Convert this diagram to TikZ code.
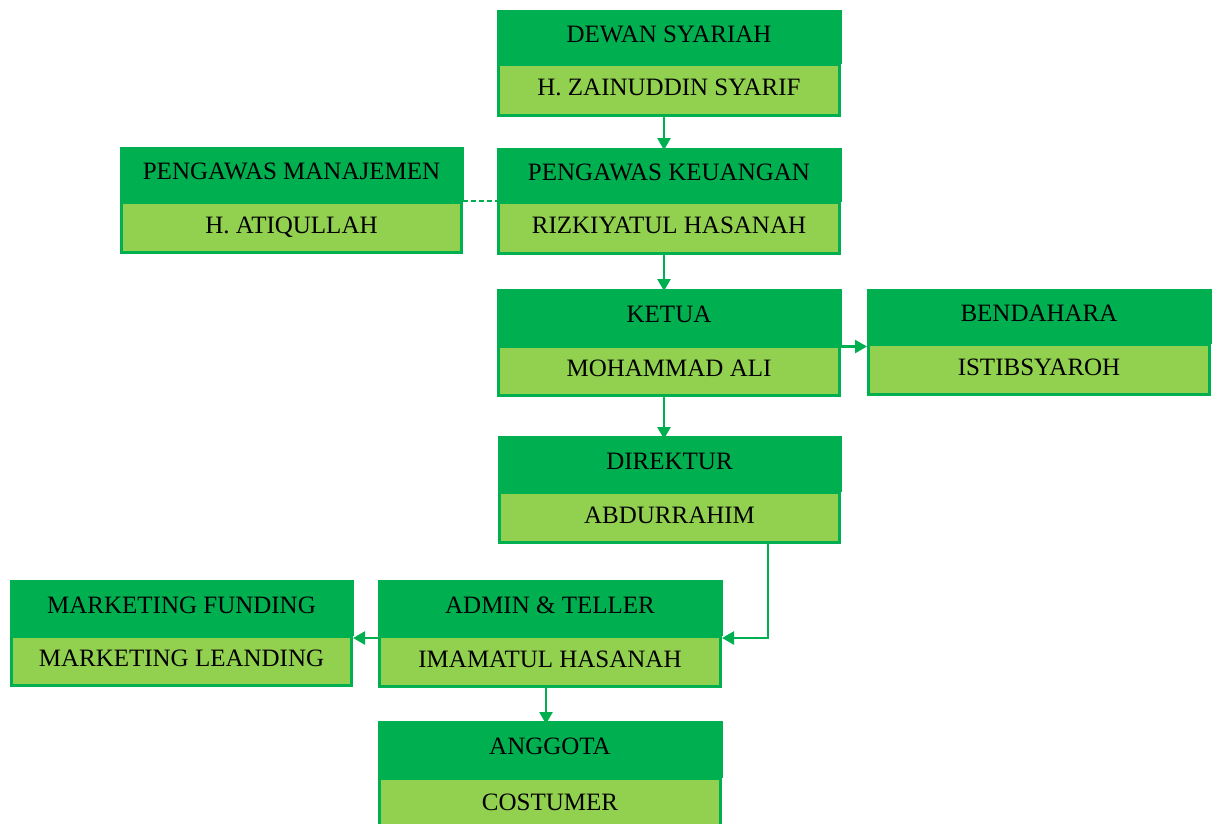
\documentclass[tikz,border=0pt]{standalone}
\usepackage{fontspec}
\setmainfont{Liberation Serif}
\usetikzlibrary{arrows.meta}
\definecolor{dg}{HTML}{00B050}
\definecolor{lg}{HTML}{92D050}
\tikzset{
  tophead/.style={rectangle, fill=dg, draw=dg, line width=0.5pt, inner sep=0pt, outer sep=0pt, anchor=north west,
    font=\fontsize{25}{29}\selectfont, text height=16.5pt, text depth=5pt},
  botpart/.style={rectangle, fill=lg, draw=dg, line width=3pt, inner sep=0pt, outer sep=0pt, anchor=north west,
    font=\fontsize{25}{29}\selectfont, text height=16.5pt, text depth=5pt},
  arr/.style={draw=dg, line width=2.5pt, -{Triangle[width=13pt,length=12pt]}},
  link/.style={draw=dg, line width=2.5pt, dash pattern=on 5pt off 3pt}
}
\newcommand\orgunit[8]{%
  \node[tophead, minimum width={#3-#2}, minimum height={#5-#4}] (#1t) at (#2,#4) {#7};
  \node[botpart, minimum width={#3-#2-3}, minimum height={#6-#5-3}] (#1b) at (#2+1.5,#5+1.5) {#8};}
\begin{document}
\begin{tikzpicture}[x=1pt,y=-1pt]
\useasboundingbox (0,0) rectangle (1217,823);
\orgunit{dewan}{497}{841}{10}{63}{117}{DEWAN SYARIAH}{H. ZAINUDDIN SYARIF}
\orgunit{keu}{497}{841}{148}{201}{255}{PENGAWAS KEUANGAN}{RIZKIYATUL HASANAH}
\orgunit{man}{120}{463}{147}{201}{254}{PENGAWAS MANAJEMEN}{H. ATIQULLAH}
\orgunit{ketua}{497}{841}{289}{345}{397}{KETUA}{MOHAMMAD ALI}
\orgunit{bend}{867}{1211}{289}{343}{396}{BENDAHARA}{ISTIBSYAROH}
\orgunit{dir}{498}{841}{436}{491}{544}{DIREKTUR}{ABDURRAHIM}
\orgunit{admin}{378}{722}{580}{635}{688}{ADMIN \& TELLER}{IMAMATUL HASANAH}
\orgunit{mkt}{10}{353}{580}{635}{687}{MARKETING FUNDING}{MARKETING LEANDING}
\orgunit{ang}{378}{722}{721}{777}{832}{ANGGOTA}{COSTUMER}
% connectors
\draw[arr] (664,0 |- dewanb.south) -- ([yshift=-2pt]664,0 |- keut.north);
\draw[link] (mant.south east) -- (keut.south west);
\draw[arr] (664,0 |- keub.south) -- ([yshift=-2pt]664,0 |- ketuat.north);
\draw[arr] (ketuab.north east) -- (bendt.south west |- ketuab.north east);
\draw[arr] (664,0 |- ketuab.south) -- ([yshift=-3pt]664,0 |- dirt.north);
\draw[arr] (768,0 |- dirb.south) |- ([yshift=-3pt]admint.south east);
\draw[arr] ([yshift=-3pt]admint.south west) -- ([yshift=-3pt]mktt.south east);
\draw[arr] (546,0 |- adminb.south) -- ([yshift=-3pt]546,0 |- angt.north);
\end{tikzpicture}
\end{document}
